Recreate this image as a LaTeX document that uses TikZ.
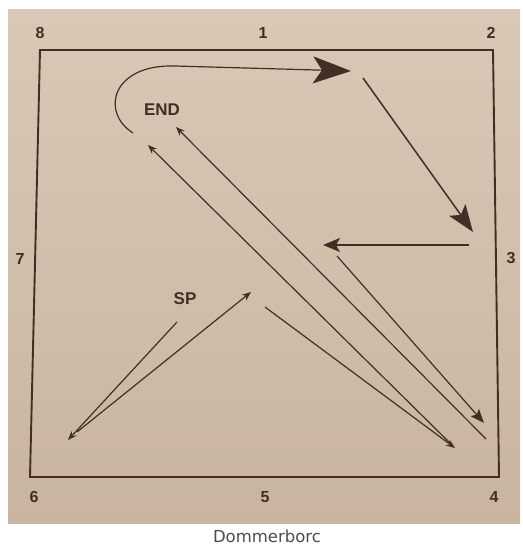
\documentclass[tikz,border=0pt]{standalone}
\usepackage{fontspec}
\setmainfont{Liberation Sans}
\newfontfamily\captionfont{DejaVu Sans}
\usepackage{tikz}
\usetikzlibrary{arrows.meta}
\definecolor{paper}{RGB}{200,180,160}
\definecolor{paperlight}{RGB}{218,200,183}
\definecolor{ink}{RGB}{66,46,36}

\begin{document}
\begin{tikzpicture}[x=1pt, y=-1pt,
  corner/.style={font=\fontsize{16}{16}\selectfont\bfseries, text=ink},
  mark label/.style={font=\fontsize{17}{17}\selectfont\bfseries, text=ink},
  route/.style={draw=ink, line width=1.2pt, -{Stealth[length=9pt,width=7pt]}}]
  \useasboundingbox (0,0) rectangle (522,545);

  % Photo of the sheet
  \shade[top color=paperlight, bottom color=paper] (8,10) rectangle (520,523);

  % Field border
  \draw[ink, line width=1.9pt] (40,50) -- (493,50) -- (499,477) -- (30,477) -- cycle;

  % Corner and side numbers
  \node[corner] (n8) at (40,33) {8};
  \node[corner] (n1) at (263,33) {1};
  \node[corner] (n2) at (491,33) {2};
  \node[corner] (n3) at (511,258) {3};
  \node[corner] (n4) at (494,497) {4};
  \node[corner] (n5) at (265,497) {5};
  \node[corner] (n6) at (34,497) {6};
  \node[corner] (n7) at (20,259) {7};

  \node[mark label] (end) at (162,110) {END};
  \node[mark label] (sp) at (185,299) {SP};

  % Route points
  \coordinate (a0) at (177,322);
  \coordinate (a1) at (68,440);
  \coordinate (b0) at (77,432);
  \coordinate (b1) at (251,292);
  \coordinate (c0) at (265,307);
  \coordinate (c1) at (455,448);
  \coordinate (d0) at (451,444);
  \coordinate (d1) at (148,145);
  \coordinate (e0) at (133,133);
  \coordinate (e1) at (351,71);
  \coordinate (f0) at (363,78);
  \coordinate (f1) at (473,232);
  \coordinate (g0) at (469,245);
  \coordinate (g1) at (323,245);
  \coordinate (h0) at (337,256);
  \coordinate (h1) at (484,423);
  \coordinate (k0) at (486,439);
  \coordinate (k1) at (176,127);

  % Route
  \draw[route] (a0) -- (a1);
  \draw[route] (b0) -- (b1);
  \draw[route] (c0) -- (c1);
  \draw[route] (d0) -- (d1);
  \draw[route, -{Stealth[length=38pt,width=27pt,inset=9pt]}]
    (e0) .. controls (100,112) and (112,64) .. (175,66) -- (e1);
  \draw[route, line width=1.5pt, -{Stealth[length=27pt,width=20pt,inset=6pt]}] (f0) -- (f1);
  \draw[route, line width=1.4pt, -{Stealth[length=17pt,width=14pt,inset=4pt]}] (g0) -- (g1);
  \draw[route, -{Stealth[length=14pt,width=11pt,inset=3pt]}] (h0) -- (h1);
  \draw[route] (k0) -- (k1);

  % Caption
  \node[font=\captionfont\fontsize{16.5}{16.5}\selectfont, text=black!70] (title) at (267,536) {Dommerborc};
\end{tikzpicture}
\end{document}
